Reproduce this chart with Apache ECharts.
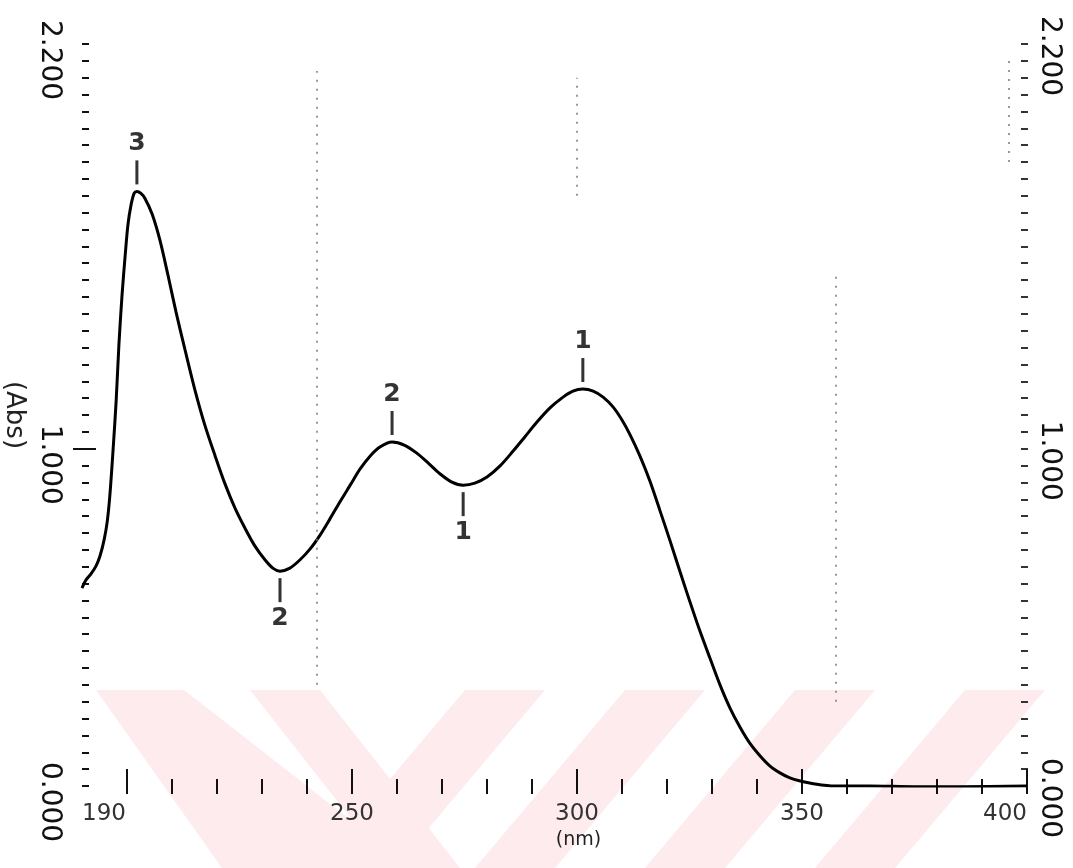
<!DOCTYPE html>
<html>
<head>
<meta charset="utf-8">
<script src="https://cdn.jsdelivr.net/npm/echarts@6/dist/echarts.min.js"></script>
<style>
  html, body { margin: 0; padding: 0; background: #fff; }
  #chart { width: 1073px; height: 868px; }
</style>
</head>
<body>
<div id="chart"></div>
<script>
// UV absorption spectrum: wavelength (nm) against absorbance (Abs)
const wavelength = [
  190.0, 190.9, 192.0, 193.1, 194.0, 194.9, 195.6, 196.2, 196.9, 197.6,
  198.2, 198.9, 199.6, 200.2, 200.9, 201.6, 202.2, 203.1, 204.0, 205.6,
  207.3, 209.1, 210.9, 212.9, 215.1, 217.3, 219.6, 221.8, 224.0, 226.2,
  228.4, 230.7, 232.4, 234.0, 236.2, 238.4, 240.7, 242.9, 245.1, 247.3,
  249.6, 251.8, 254.0, 256.2, 258.9, 261.6, 264.4, 266.9, 269.6, 272.2,
  274.7, 277.3, 280.0, 282.9, 285.8, 288.4, 291.1, 294.0, 296.9, 299.1,
  301.3, 303.6, 305.8, 308.0, 310.0, 311.8, 314.0, 316.2, 318.4, 320.7,
  322.9, 325.1, 327.3, 329.6, 331.8, 334.0, 336.2, 338.4, 340.7, 342.9,
  345.1, 347.3, 349.6, 352.9, 357.3, 365.0, 375.0, 385.0, 400.0
];
const absorbance = [
  0.587, 0.611, 0.629, 0.652, 0.682, 0.729, 0.783, 0.863, 0.996, 1.144,
  1.308, 1.456, 1.574, 1.663, 1.723, 1.758, 1.763, 1.757, 1.742, 1.695,
  1.619, 1.515, 1.405, 1.293, 1.174, 1.070, 0.978, 0.895, 0.824, 0.765,
  0.712, 0.670, 0.646, 0.637, 0.646, 0.670, 0.703, 0.744, 0.792, 0.842,
  0.892, 0.940, 0.978, 1.005, 1.020, 1.011, 0.987, 0.958, 0.925, 0.901,
  0.892, 0.898, 0.916, 0.949, 0.993, 1.035, 1.079, 1.121, 1.153, 1.171,
  1.177, 1.171, 1.153, 1.124, 1.085, 1.041, 0.978, 0.904, 0.818, 0.726,
  0.635, 0.546, 0.460, 0.377, 0.299, 0.231, 0.175, 0.127, 0.089, 0.059,
  0.039, 0.024, 0.015, 0.006, 0.000, 0.000, -0.002, -0.002, 0.000
];

// picked maxima and minima with their rank numbers
const peakWavelength = [202.2, 258.9, 301.3];
const peakAbsorbance = [1.763, 1.020, 1.177];
const peakRank = ['3', '2', '1'];
const valleyWavelength = [234.0, 274.7];
const valleyAbsorbance = [0.637, 0.892];
const valleyRank = ['2', '1'];

// axis ticks and labels
const xLabelValues = [190, 250, 300, 350, 400];
const xMajorTicks = [200, 250, 300, 350, 400];
const xMinorTicks = [210, 220, 230, 240, 260, 270, 280, 290, 310, 320, 330, 340, 360, 370, 380, 390];
const xTopTicks = [200, 210, 220, 230, 240, 250, 260, 270, 280, 290, 300, 310, 320, 330, 340, 350, 360, 370, 380, 390, 400];
const yLabelValues = [0, 1, 2.2];
const yLabelText = ['0.000', '1.000', '2.200'];

// faint dotted rulings printed on the chart paper: [wavelength, from Abs, to Abs]
const paperRulings = [
  [242.2, 0.30, 2.12],
  [300.0, 1.75, 2.10],
  [357.6, 0.25, 1.52],
  [396.0, 1.85, 2.15]
];

const curve = wavelength.map((w, i) => [w, absorbance[i]]);
const peaks = peakWavelength.map((w, i) => ({ value: [w, peakAbsorbance[i]], name: peakRank[i] }));
const valleys = valleyWavelength.map((w, i) => ({ value: [w, valleyAbsorbance[i]], name: valleyRank[i] }));

const INK = '#111';
const plotFont = 'DejaVu Sans';
const stamp = '#fdebee';

function yLabel(v) {
  for (let i = 0; i < yLabelValues.length; i++) {
    if (Math.abs(v - yLabelValues[i]) < 1e-6) return yLabelText[i];
  }
  return '';
}

// pale chevron stamp across the foot of the sheet
function band(points) {
  return { type: 'polygon', silent: true, z: -10, shape: { points: points }, style: { fill: stamp } };
}
const stampBands = [
  [[96, 690], [184, 690], [412, 868], [222, 868]],
  [[250, 690], [320, 690], [460, 868], [390, 868]],
  [[465, 690], [545, 690], [395, 868], [315, 868]],
  [[625, 690], [705, 690], [555, 868], [475, 868]],
  [[795, 690], [875, 690], [725, 868], [645, 868]],
  [[965, 690], [1045, 690], [895, 868], [815, 868]]
];

const gridBox = { left: 82, right: 46, top: 44, bottom: 82, outerBoundsMode: 'none', containLabel: false };

const option = {
  animation: false,
  backgroundColor: '#ffffff',
  graphic: stampBands.map(band),
  grid: [
    Object.assign({}, gridBox),
    Object.assign({}, gridBox)
  ],
  xAxis: [
    {
      type: 'value', gridIndex: 0, position: 'bottom', min: 190, max: 400,
      axisLine: { show: false }, splitLine: { show: false },
      axisTick: { show: true, inside: true, length: 17, customValues: xMajorTicks, lineStyle: { color: INK, width: 2 } },
      axisLabel: {
        customValues: xLabelValues, margin: 17, fontSize: 23, color: '#333', fontFamily: plotFont,
        alignMinLabel: 'left', alignMaxLabel: 'right', formatter: v => String(v)
      },
      name: '(nm)', nameLocation: 'middle', nameGap: 44,
      nameTextStyle: { fontSize: 19, color: '#222', fontFamily: plotFont, padding: [0, 0, 0, 48] }
    },
    {
      type: 'value', gridIndex: 0, position: 'top', min: 190, max: 400,
      axisLine: { show: false }, splitLine: { show: false },
      axisTick: { show: true, inside: true, length: 8, customValues: xTopTicks, lineStyle: { color: INK, width: 2 } },
      axisLabel: { show: false }
    },
    {
      type: 'value', gridIndex: 1, position: 'bottom', min: 190, max: 400,
      axisLine: { show: false }, splitLine: { show: false },
      axisTick: { show: true, inside: true, length: 7, customValues: xMinorTicks, lineStyle: { color: INK, width: 2 } },
      axisLabel: { show: false }
    }
  ],
  yAxis: [
    {
      type: 'value', gridIndex: 0, position: 'left', min: 0, max: 2.2, interval: 0.05,
      axisLine: { show: false }, splitLine: { show: false },
      axisTick: { show: true, inside: true, length: 7, lineStyle: { color: INK, width: 2 } },
      axisLabel: {
        customValues: yLabelValues, formatter: yLabel, rotate: -90, margin: 19,
        fontSize: 28, color: '#111', fontFamily: plotFont, padding: [0, 0, 0, 32]
      },
      name: '(Abs)', nameLocation: 'middle', nameGap: 38, nameRotate: -90,
      nameTextStyle: { fontSize: 26, color: '#222', fontFamily: plotFont }
    },
    {
      type: 'value', gridIndex: 0, position: 'right', offset: -6, min: 0, max: 2.2, interval: 0.05,
      axisLine: { show: false }, splitLine: { show: false },
      axisTick: { show: true, inside: false, length: 7, lineStyle: { color: '#333', width: 2 } },
      axisLabel: {
        customValues: yLabelValues, formatter: yLabel, rotate: -90, margin: 14,
        fontSize: 28, color: '#111', fontFamily: plotFont, padding: [0, 0, 0, 24]
      }
    },
    {
      type: 'value', gridIndex: 1, position: 'left', min: 0, max: 2.2, offset: 9,
      axisLine: { show: false }, splitLine: { show: false },
      axisTick: { show: true, inside: true, length: 23, customValues: [1], lineStyle: { color: INK, width: 2 } },
      axisLabel: { show: false }
    }
  ],
  series: [
    {
      type: 'line', xAxisIndex: 0, yAxisIndex: 0, data: curve,
      smooth: 0.3, showSymbol: false, silent: true,
      lineStyle: { color: '#000', width: 3 },
      markLine: {
        silent: true, symbol: 'none', animation: false,
        label: { show: false },
        lineStyle: { color: '#777', width: 1.5, type: [2, 7] },
        data: paperRulings.map(r => [{ coord: [r[0], r[1]] }, { coord: [r[0], r[2]] }])
      }
    },
    {
      type: 'scatter', xAxisIndex: 0, yAxisIndex: 0, data: peaks, silent: true,
      symbol: 'rect', symbolSize: [3, 24], symbolOffset: [0, -19],
      itemStyle: { color: '#000' },
      label: {
        show: true, position: 'top', distance: 4, formatter: '{b}',
        fontSize: 25, fontWeight: 'bold', color: '#000', fontFamily: plotFont
      }
    },
    {
      type: 'scatter', xAxisIndex: 0, yAxisIndex: 0, data: valleys, silent: true,
      symbol: 'rect', symbolSize: [3, 24], symbolOffset: [0, 19],
      itemStyle: { color: '#000' },
      label: {
        show: true, position: 'bottom', distance: 4, formatter: '{b}',
        fontSize: 25, fontWeight: 'bold', color: '#000', fontFamily: plotFont
      }
    }
  ]
};

const chart = echarts.init(document.getElementById('chart'), null, { renderer: 'canvas' });
chart.setOption(option);
</script>
</body>
</html>
